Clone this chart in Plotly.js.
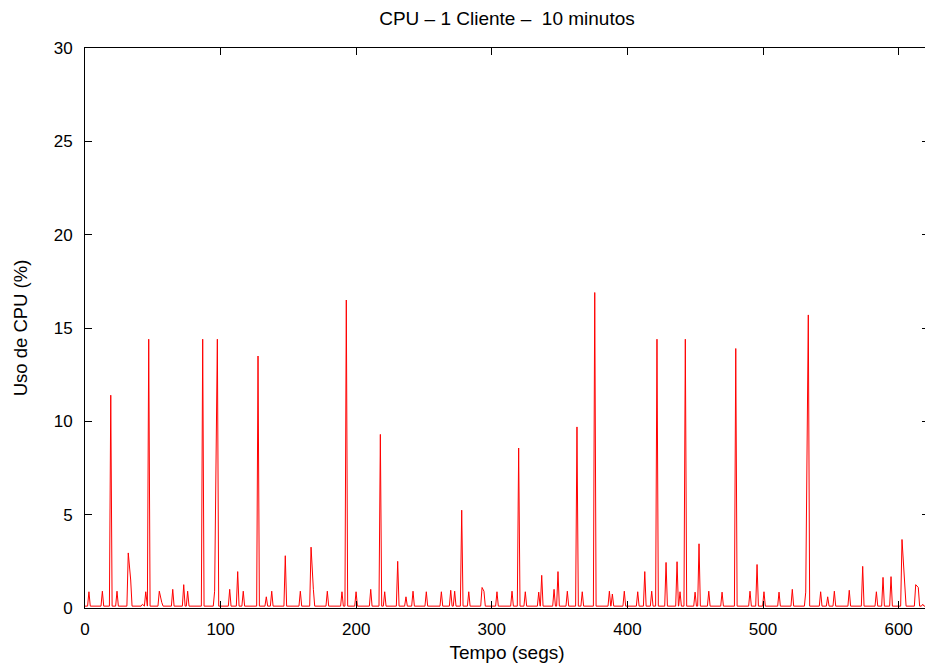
<!DOCTYPE html>
<html>
<head>
<meta charset="utf-8">
<script src="https://cdn.plot.ly/plotly-3.0.1.min.js"></script>
<style>
html,body{margin:0;padding:0;background:#fff;overflow:hidden;}
#chart{width:931px;height:670px;}
</style>
</head>
<body>
<div id="chart"></div>
<script>
// Peaks of the CPU usage series (time in seconds, CPU %)
const peakTime = [2.9, 12.8, 19.0, 23.6, 31.9, 33.7, 42.4, 44.8, 47.0, 54.8, 56.6, 64.7, 72.8, 75.7,
  86.8, 95.6, 97.6, 106.7, 112.6, 116.7, 127.6, 133.7, 137.7, 147.7, 158.8, 166.7, 168.4, 178.7,
  189.5, 192.7, 199.9, 210.7, 217.8, 221.0, 230.6, 236.7, 241.9, 251.7, 262.8, 269.7, 272.6,
  277.8, 283.0, 292.8, 294.2, 303.8, 314.9, 319.8, 324.7, 334.6, 336.8, 345.9, 348.8, 355.7,
  362.8, 366.7, 375.9, 386.7, 388.9, 397.7, 407.6, 412.8, 417.9, 421.8, 428.5, 436.6, 438.8,
  442.7, 449.9, 452.8, 460.0, 469.8, 479.9, 490.4, 495.6, 500.7, 511.8, 521.6, 531.5, 533.4,
  542.5, 547.7, 552.6, 563.6, 573.5, 583.6, 588.5, 594.4, 602.5, 604.5, 612.6, 614.5, 617.8];
const peakValue = [0.87, 0.9, 11.4, 0.9, 2.95, 1.5, 0.2, 0.87, 14.4, 0.9, 0.3, 1.0, 1.25, 0.9,
  14.4, 0.9, 14.4, 1.0, 1.95, 0.9, 13.5, 0.6, 0.9, 2.8, 0.9, 3.26, 1.0, 0.9,
  0.87, 16.5, 0.87, 1.0, 9.3, 0.87, 2.5, 0.6, 0.9, 0.87, 0.87, 0.95, 0.9,
  5.24, 0.87, 1.1, 0.9, 0.87, 0.9, 8.57, 0.87, 0.85, 1.75, 1.0, 1.95, 0.9,
  9.7, 0.87, 16.9, 0.9, 0.75, 0.9, 0.87, 1.95, 0.9, 14.4, 2.44, 2.48, 0.87,
  14.4, 0.85, 3.44, 0.9, 0.85, 13.9, 0.9, 2.33, 0.87, 0.85, 1.0, 0.85, 15.7,
  0.87, 0.6, 0.9, 0.95, 2.23, 0.87, 1.64, 1.68, 3.67, 0.85, 1.25, 1.1, 0.2];
const idleValue = 0.1;
const startTime = 0;
const endTime = 622.4;

const xTickVals = [0, 100, 200, 300, 400, 500, 600];
const yTickVals = [0, 5, 10, 15, 20, 25, 30];

// build the polyline: idle level between the peaks
const xs = [startTime], ys = [idleValue];
for (let i = 0; i < peakTime.length; i++) {
  const t = peakTime[i];
  const prev = i > 0 ? peakTime[i - 1] : null;
  if (prev === null || t - prev > 2) {
    if (prev !== null) { xs.push(prev + 1); ys.push(idleValue); }
    xs.push(t - 1); ys.push(idleValue);
  }
  xs.push(t); ys.push(peakValue[i]);
}
xs.push(Math.min(peakTime[peakTime.length - 1] + 1, endTime)); ys.push(idleValue);
xs.push(endTime); ys.push(idleValue);

const font = 'Liberation Sans, Arial, Helvetica, sans-serif';

Plotly.newPlot('chart', [{
  x: xs, y: ys, type: 'scatter', mode: 'lines',
  line: {color: '#ff0000', width: 1}, hoverinfo: 'skip', showlegend: false
}], {
  width: 931, height: 670,
  margin: {l: 85, r: 2, t: 48, b: 62},
  paper_bgcolor: '#ffffff', plot_bgcolor: '#ffffff',
  font: {family: font, size: 16, color: '#000'},
  title: {text: 'CPU \u2013 1 Cliente \u2013  10 minutos', font: {family: font, size: 19, color: '#000'},
          x: 0.5, xref: 'paper', y: 1 - 18/670, yref: 'container', yanchor: 'middle'},
  xaxis: {
    range: [startTime, endTime], tickvals: xTickVals, ticktext: xTickVals.map(String),
    ticks: 'inside', ticklen: 7, tickcolor: '#000', tickwidth: 1,
    showline: true, linecolor: '#000', linewidth: 1, mirror: 'ticks',
    showgrid: false, zeroline: false, ticklabelstandoff: 6,
    tickfont: {family: font, size: 17, color: '#000'},
    title: {text: 'Tempo (segs)', font: {family: font, size: 19, color: '#000'}, standoff: 7}
  },
  yaxis: {
    range: [0, 30], tickvals: yTickVals, ticktext: yTickVals.map(String),
    ticks: 'inside', ticklen: 7, tickcolor: '#000', tickwidth: 1,
    showline: true, linecolor: '#000', linewidth: 1, mirror: 'ticks',
    showgrid: false, zeroline: false, ticklabelstandoff: 8,
    tickfont: {family: font, size: 17, color: '#000'},
    title: {text: 'Uso de CPU (%)', font: {family: font, size: 18.5, color: '#000'}, standoff: 21}
  }
}, {displayModeBar: false, staticPlot: true});
</script>
</body>
</html>
